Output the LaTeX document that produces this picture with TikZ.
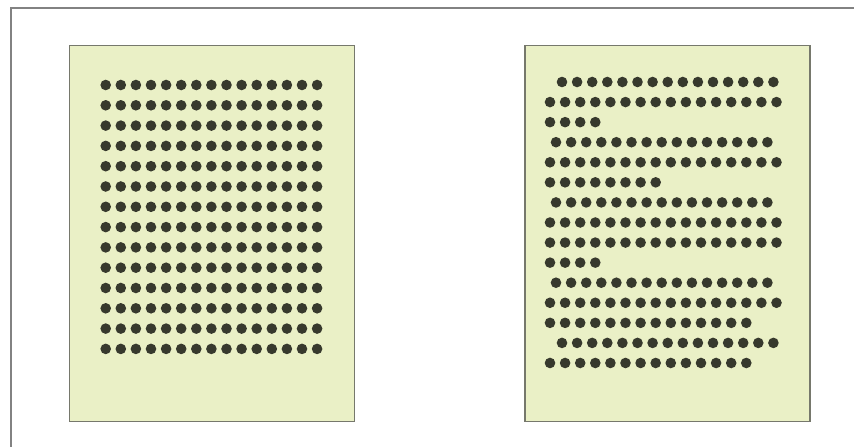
\documentclass[tikz,border=0pt]{standalone}
\usetikzlibrary{positioning}
\definecolor{paper}{RGB}{234,240,198}
\definecolor{ink}{RGB}{55,57,45}
\definecolor{rim}{RGB}{118,120,108}
\definecolor{frame}{RGB}{130,130,130}
\tikzset{
  page/.style={draw=rim, line width=1.5pt, fill=paper, minimum width=285pt, minimum height=376pt, inner sep=0pt},
  dot/.style={fill=ink},
}

\begin{document}
\begin{tikzpicture}[x=1pt, y=-1pt]
  \useasboundingbox (0,0) rectangle (854,447);
  % cropped outer frame
  \draw[frame, line width=1.5pt] (11,447) -- (11,8) -- (854,8);
  \node[page, anchor=north west] (full) at (68.5,44.5) {};
  \node[page, right=169pt of full] (ragged) {};
  % justified block
  \foreach \r in {0,...,13}
    \foreach \c in {0,...,14}
      \fill[dot] (105.7+15.1*\c, 85+20.3*\r) circle (5.3pt);
  % ragged block: indent/count per line
  \foreach \s/\n [count=\r from 0] in {12/15, 0/16, 0/4, 6/15, 0/16, 0/8, 6/15, 0/16,
                                       0/16, 0/4, 6/15, 0/16, 0/14, 12/15, 0/14}
    \foreach \c in {1,...,\n}
      \fill[dot] (550+\s+15.1*\c-15.1, 82+20.07*\r) circle (5.3pt);
\end{tikzpicture}
\end{document}
